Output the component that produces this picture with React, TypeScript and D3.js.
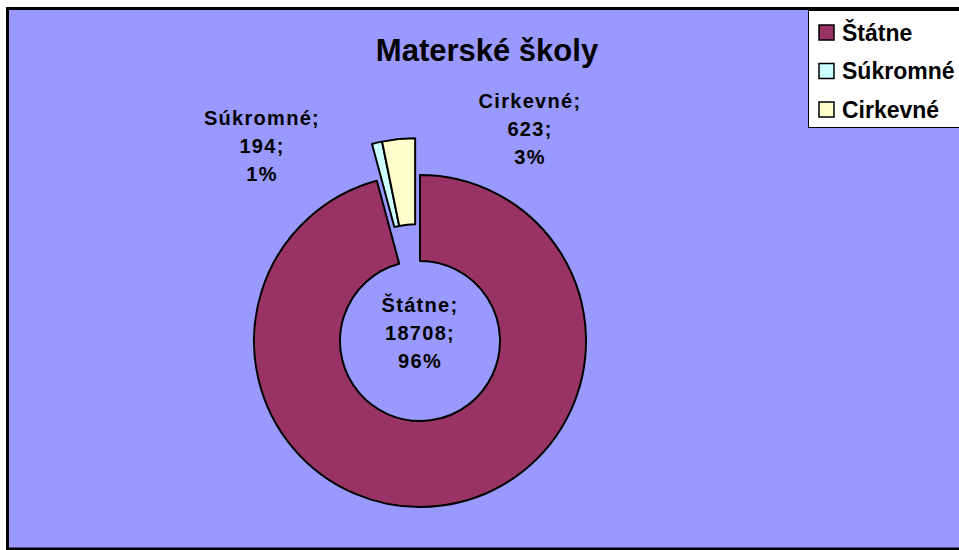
import React, { useRef, useEffect } from "react";
import * as d3 from "d3";

const categories = ["Štátne", "Súkromné", "Cirkevné"];
const values = [18708, 194, 623];
const percents = ["96%", "1%", "3%"];
const colors = ["#993366", "#CCFFFF", "#FFFFCC"];
const exploded = [false, true, true];

const W = 959;
const H = 550;

const App: React.FC = () => {
    const svgRef = useRef<SVGSVGElement | null>(null);

    useEffect(() => {
        if (!svgRef.current) return;
        const svg = d3.select(svgRef.current);
        svg.selectAll("*").remove();

        // chart area
        svg.append("rect")
            .attr("x", 7.5).attr("y", 8.5)
            .attr("width", W + 10).attr("height", H - 9.5)
            .attr("fill", "#9999FF")
            .attr("stroke", "#000").attr("stroke-width", 3);

        // title
        svg.append("text")
            .attr("x", 487).attr("y", 61)
            .attr("text-anchor", "middle")
            .attr("font-family", "Liberation Sans, Arial, sans-serif")
            .attr("font-weight", "bold")
            .attr("font-size", 31)
            .text("Materské školy");

        const cx = 420, cy = 341;
        const outer = 166, inner = 80;
        const offset = 37;

        const pie = d3.pie<number>().sort(null).value((d) => d);
        const arcs = pie(values);
        const arc = d3.arc<d3.PieArcDatum<number>>().innerRadius(inner).outerRadius(outer);

        // exploded slices move together along their common bisector
        const ex = arcs.filter((d, i) => exploded[i]);
        const exMid = (d3.min(ex, (d) => d.startAngle)! + d3.max(ex, (d) => d.endAngle)!) / 2;

        const g = svg.append("g").attr("transform", `translate(${cx},${cy})`);
        g.selectAll("path")
            .data(arcs)
            .enter()
            .append("path")
            .attr("transform", (d, i) =>
                exploded[i]
                    ? `translate(${Math.sin(exMid) * offset},${-Math.cos(exMid) * offset})`
                    : null
            )
            .attr("d", arc)
            .attr("fill", (d, i) => colors[i])
            .attr("stroke", "#000")
            .attr("stroke-width", 2)
            .attr("stroke-linejoin", "round");

        // data labels
        const labelPos = [
            [420, 305],
            [262, 118],
            [530, 101],
        ];
        const lbl = svg.append("g")
            .attr("font-family", "Liberation Sans, Arial, sans-serif")
            .attr("font-weight", "bold")
            .attr("font-size", 20)
            .attr("letter-spacing", 1.3)
            .attr("text-anchor", "middle");
        categories.forEach((c, i) => {
            const lines = [`${c};`, `${values[i]};`, percents[i]];
            lines.forEach((t, j) => {
                lbl.append("text")
                    .attr("x", labelPos[i][0])
                    .attr("y", labelPos[i][1] + j * 28)
                    .attr("dy", "0.35em")
                    .text(t);
            });
        });

        // legend
        const lg = svg.append("g");
        lg.append("rect")
            .attr("x", 808.5).attr("y", 10.5)
            .attr("width", 200).attr("height", 117)
            .attr("fill", "#fff").attr("stroke", "#000").attr("stroke-width", 1);
        categories.forEach((c, i) => {
            const y = 32.5 + i * 38.5;
            lg.append("rect")
                .attr("x", 819).attr("y", y - 7.5)
                .attr("width", 15).attr("height", 15)
                .attr("fill", colors[i]).attr("stroke", "#000").attr("stroke-width", 1.5);
            lg.append("text")
                .attr("x", 842).attr("y", y)
                .attr("dy", "0.35em")
                .attr("font-family", "Liberation Sans, Arial, sans-serif")
                .attr("font-weight", "bold")
                .attr("font-size", 23)
                .text(c);
        });
    }, []);

    return (
        <svg
            ref={svgRef}
            width={W}
            height={H}
            style={{ position: "absolute", left: 0, top: 0, background: "#fff" }}
        ></svg>
    );
};

export default App;
